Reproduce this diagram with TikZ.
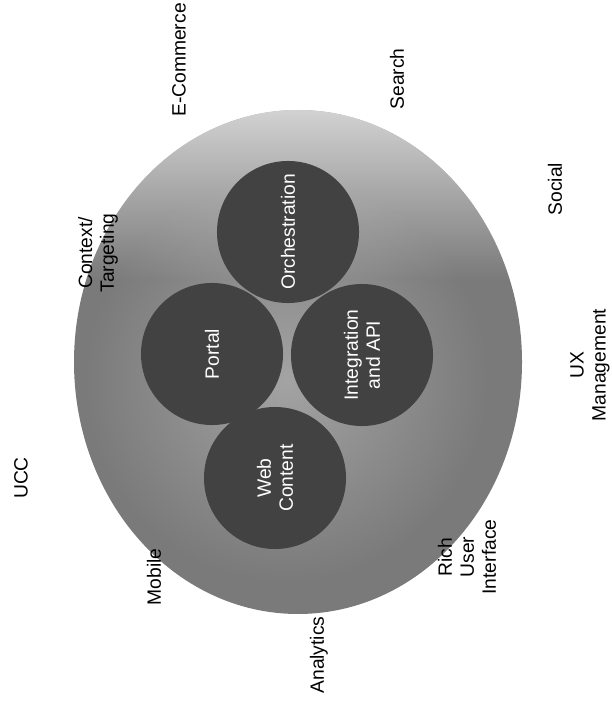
\documentclass[tikz,border=0pt]{standalone}
\usepackage{fontspec}
\setsansfont{Liberation Sans}
\usepackage{tikz}
\usetikzlibrary{positioning,shapes.geometric,fadings}

\begin{document}
\begin{tikzpicture}[
    x=0.025cm, y=-0.025cm,
    every node/.style={font=\fontsize{13.7}{15.6}\selectfont\sffamily},
    corecircle/.style={circle,fill=black!74,text=white,minimum size=3.55cm,inner sep=0pt,align=center,rotate=90},
    outerlabel/.style={rotate=90,align=center,inner sep=0pt,text=black},
]
\useasboundingbox (0,0) rectangle (611,707);

\begin{scope}
    \clip (298,362) ellipse [x radius=224, y radius=252];
    \fill[black!52] (60,100) rectangle (540,630);
    \shade[inner color=black!36, outer color=black!52] (286,380) circle [radius=200];
    \fill[white,opacity=0.7,path fading=south] (60,100) rectangle (540,280);
\end{scope}

\node[corecircle] (orch)   at (288,232) {Orchestration};
\node[corecircle] (portal) at (212,354) {Portal};
\node[corecircle] (integ)  at (362,355) {Integration\\and API};
\node[corecircle] (web)    at (275,478) {Web\\Content};

\node[outerlabel] (ecommerce) at (179,60)  {E-Commerce};
\node[outerlabel] (search)    at (397,79)  {Search};
\node[outerlabel] (social)    at (555,189) {Social};
\node[outerlabel] (context)   at (98,253)  {Context/\\Targeting};
\node[outerlabel] (uxmgmt)    at (590,365) {UX\\Management};
\node[outerlabel] (ucc)       at (21,478)  {UCC};
\node[outerlabel] (richui)    at (467,557) {Rich\\User\\Interface};
\node[outerlabel] (mobile)    at (154,577) {Mobile};
\node[outerlabel] (analytics) at (319,655) {Analytics};
\end{tikzpicture}
\end{document}
